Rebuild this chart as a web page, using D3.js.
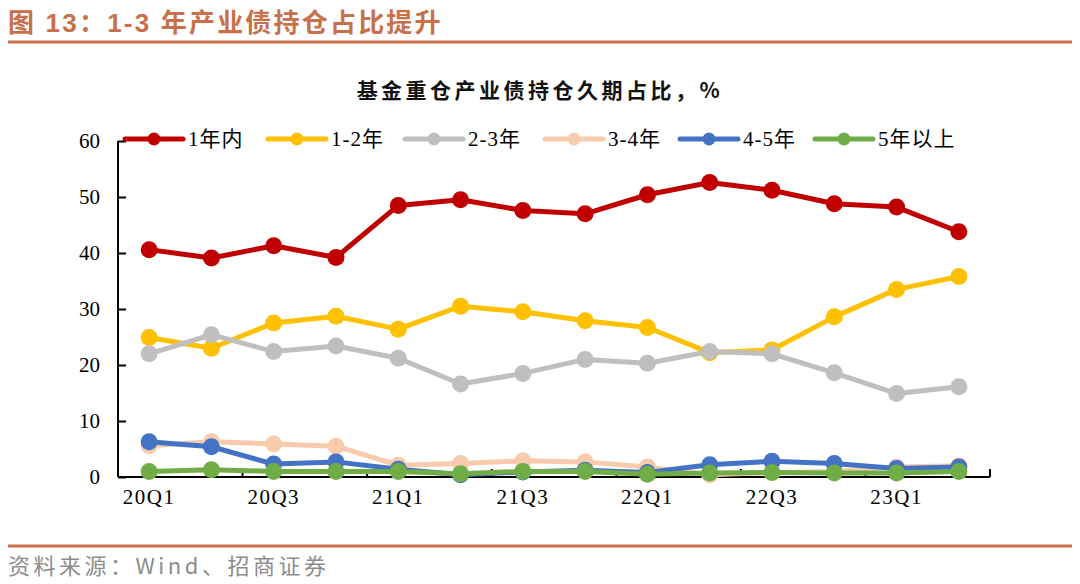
<!DOCTYPE html>
<html><head><meta charset="utf-8">
<script src="https://cdn.jsdelivr.net/npm/d3@7/dist/d3.min.js"></script>
<style>body{margin:0;background:#fff}svg{display:block}</style>
</head><body>
<script>
const categories = ["20Q1","20Q2","20Q3","20Q4","21Q1","21Q2","21Q3","21Q4","22Q1","22Q2","22Q3","22Q4","23Q1","23Q2"];
const seriesNames = ["1年内","1-2年","2-3年","3-4年","4-5年","5年以上"];
const s1 = [40.6,39.1,41.3,39.2,48.5,49.5,47.6,47.0,50.4,52.6,51.2,48.8,48.2,43.8];
const s2 = [24.9,23.0,27.5,28.7,26.4,30.5,29.5,27.9,26.7,22.2,22.7,28.6,33.5,35.8];
const s3 = [22.0,25.4,22.4,23.4,21.2,16.6,18.5,21.0,20.3,22.4,22.0,18.6,14.9,16.1];
const s4 = [5.6,6.3,5.9,5.5,2.1,2.4,2.9,2.7,1.8,0.4,0.8,1.0,1.8,2.0];
const s5 = [6.3,5.4,2.3,2.7,1.4,0.4,0.9,1.2,0.8,2.2,2.8,2.4,1.5,1.8];
const s6 = [1.0,1.3,1.0,1.0,1.0,0.6,1.0,1.0,0.5,0.7,0.8,0.7,0.7,1.0];
const colors = ["#c00000","#ffc000","#bfbfbf","#f8cbad","#4472c4","#70ad47"];
const yTicks = [0,10,20,30,40,50,60];
const xTickLabels = ["20Q1","20Q3","21Q1","21Q3","22Q1","22Q3","23Q1"];
const pageTitle = "图 13：1-3 年产业债持仓占比提升";
const chartTitle = "基金重仓产业债持仓久期占比，%";
const sourceText = "资料来源：Wind、招商证券";

const data = [s1,s2,s3,s4,s5,s6];
const W = 1080, H = 584;
const svg = d3.select("body").append("svg").attr("width",W).attr("height",H);
const serif = "'Liberation Serif','Times New Roman','Noto Sans CJK SC',serif";
const accent = "#c8704a";

// header
svg.append("text").attr("x",8).attr("y",32).attr("fill",accent)
  .attr("font-family","'Liberation Sans',Arial,'Noto Sans CJK SC',sans-serif")
  .attr("font-weight","bold").attr("font-size",26).attr("letter-spacing",2.2).text(pageTitle);
svg.append("line").attr("x1",8).attr("x2",1072).attr("y1",42).attr("y2",42)
  .attr("stroke",accent).attr("stroke-width",3);
svg.append("line").attr("x1",8).attr("x2",1072).attr("y1",546).attr("y2",546)
  .attr("stroke",accent).attr("stroke-width",3);
svg.append("text").attr("x",8).attr("y",574).attr("fill","#8c8c8c")
  .attr("font-family","'Noto Sans CJK SC','Liberation Sans',sans-serif")
  .attr("font-size",22).attr("letter-spacing",3.5).text(sourceText);

// chart title
svg.append("text").attr("x",540).attr("y",98).attr("text-anchor","middle")
  .attr("font-family","'Noto Sans CJK SC',sans-serif").attr("font-weight","bold")
  .attr("font-size",21).attr("letter-spacing",3.5).attr("fill","#111").text(chartTitle);

const x = d3.scaleBand().domain(categories).range([118,990]);
const y = d3.scaleLinear().domain([0,60]).range([477,141]);
const cx = d => x(d) + x.bandwidth()/2;

// y axis
const ya = svg.append("g").attr("transform","translate(118,0)")
  .call(d3.axisLeft(y).tickValues(yTicks).tickSize(-8).tickPadding(18));
ya.select(".domain").attr("stroke","#000").attr("stroke-width",2).attr("d","M0,477V141");
ya.selectAll(".tick line").attr("stroke","#000").attr("stroke-width",2);
ya.selectAll("text").attr("font-family",serif).attr("font-size",21).attr("fill","#000");

// x axis
const xa = svg.append("g").attr("transform","translate(0,477)")
  .call(d3.axisBottom(x).tickValues(categories).tickSize(0).tickPadding(12)
  .tickFormat(d => xTickLabels.includes(d) ? d : ""));
xa.select(".domain").attr("stroke","#000").attr("stroke-width",2).attr("d","M118,0H990");
xa.selectAll("text").attr("font-family",serif).attr("font-size",21).attr("letter-spacing",1.5)
  .attr("fill","#000").attr("dy","0.71em");
// tick marks every 2 categories
const tickPos = categories.filter((d,i)=>i%2===0).map(d=>x(d)).concat([990]);
svg.append("g").selectAll("line").data(tickPos).join("line")
  .attr("x1",d=>d).attr("x2",d=>d).attr("y1",477).attr("y2",469)
  .attr("stroke","#000").attr("stroke-width",2);

// lines
const line = d3.line().x((d,i)=>cx(categories[i])).y(d=>y(d));
data.forEach((s,k)=>{
  const g = svg.append("g");
  g.append("path").attr("d",line(s)).attr("fill","none").attr("stroke",colors[k])
    .attr("stroke-width",5).attr("stroke-linejoin","round");
  g.selectAll("circle").data(s).join("circle")
    .attr("cx",(d,i)=>cx(categories[i])).attr("cy",d=>y(d)).attr("r",8.5)
    .attr("fill",colors[k]);
});

// legend
const legX = [125,268,405,545,680,815];
const lg = svg.append("g");
seriesNames.forEach((n,k)=>{
  const gx = legX[k], gy = 139;
  lg.append("line").attr("x1",gx).attr("x2",gx+58).attr("y1",gy).attr("y2",gy)
    .attr("stroke",colors[k]).attr("stroke-width",5).attr("stroke-linecap","round");
  lg.append("circle").attr("cx",gx+29).attr("cy",gy).attr("r",6.5).attr("fill",colors[k]);
  lg.append("text").attr("x",gx+63).attr("y",gy+7).attr("font-family",serif)
    .attr("font-size",21).attr("letter-spacing",1).attr("fill","#000").text(n);
});
</script>
</body></html>
